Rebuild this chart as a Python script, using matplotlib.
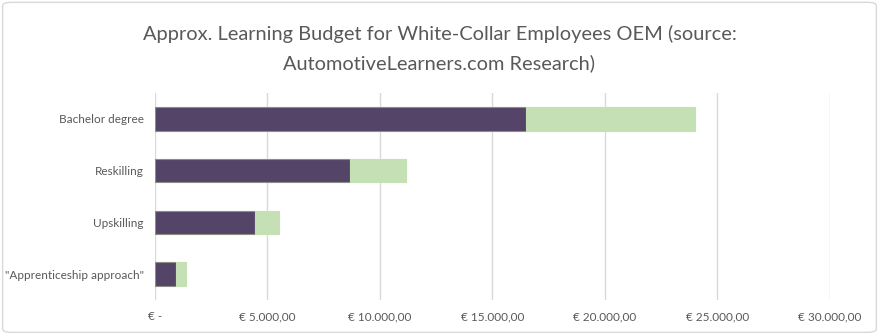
import matplotlib.pyplot as plt
from matplotlib.ticker import FuncFormatter, MultipleLocator
from matplotlib.patches import FancyBboxPatch

categories = ['Bachelor degree', 'Reskilling', 'Upskilling', '"Apprenticeship approach"']
base_budget = [16500, 8650, 4450, 950]
extra_budget = [7500, 2500, 1050, 420]

title = 'Approx. Learning Budget for White-Collar Employees OEM (source:\nAutomotiveLearners.com Research)'

plt.rcParams['font.family'] = ['Lato', 'DejaVu Sans']

fig = plt.figure(figsize=(8.79, 3.34), dpi=100)
ax = fig.add_axes([155 / 879, 1 - 300 / 334, 675 / 879, 207 / 334])

y = list(range(len(categories)))
ax.barh(y, base_budget, height=0.45, color='#534468', edgecolor='#8a8f86', linewidth=0.8, zorder=3)
ax.barh(y, extra_budget, left=base_budget, height=0.45, color='#c5e0b4', edgecolor='#c5e0b4', linewidth=0.8, zorder=3)

ax.set_xlim(0, 30000)
ax.set_ylim(len(categories) - 0.5, -0.5)
ax.set_yticks(y)
ax.set_yticklabels(categories)
ax.xaxis.set_major_locator(MultipleLocator(5000))


def euro(v, pos):
    if v == 0:
        return '€ -'
    s = f'{v:,.2f}'.replace(',', 'X').replace('.', ',').replace('X', '.')
    return '€ ' + s


ax.xaxis.set_major_formatter(FuncFormatter(euro))
ax.grid(axis='x', color='#d9d9d9', linewidth=1, zorder=0)
for sp in ax.spines.values():
    sp.set_visible(False)
ax.tick_params(axis='both', length=0, labelsize=8.5, colors='#595959')
ax.tick_params(axis='y', pad=8)
ax.tick_params(axis='x', pad=8)

fig.text(0.5, 0.855, title, ha='center', va='center', fontsize=14.4,
         color='#595959', linespacing=1.8)

border = FancyBboxPatch((0.003, 0.005), 0.994, 0.988, boxstyle='round,pad=0,rounding_size=0.01',
                        transform=fig.transFigure, facecolor='none', edgecolor='#d9d9d9', linewidth=1)
fig.patches.append(border)

fig.savefig('out.png', dpi=100)
